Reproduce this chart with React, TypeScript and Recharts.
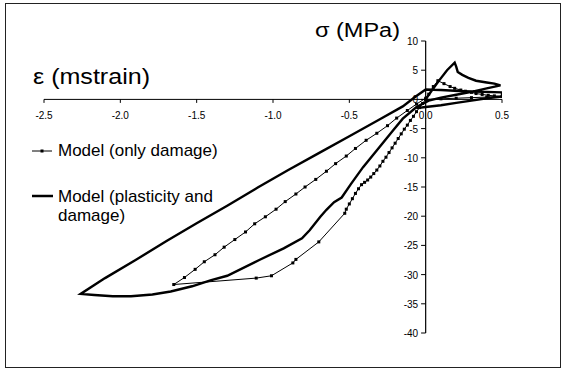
import React from 'react';
import { LineChart, Line, XAxis, YAxis, ReferenceLine, Legend } from 'recharts';

// strain (mstrain) / stress (MPa)
const damageX = [
  0.0, -0.02, -0.04, -0.06, -0.08, -0.1, -0.12, -0.14, -0.16, -0.18, -0.2, -0.22, -0.24, -0.26,
  -0.28, -0.3, -0.32, -0.34, -0.36, -0.38, -0.4, -0.42, -0.44, -0.46, -0.48, -0.5, -0.52, -0.53,
  -0.7, -0.85, -0.87, -1.01, -1.11, -1.65,
  -1.58, -1.51, -1.45, -1.38, -1.32, -1.25, -1.18, -1.12, -1.05, -0.98, -0.92, -0.85, -0.79,
  -0.72, -0.65, -0.59, -0.52, -0.46, -0.39, -0.32, -0.25, -0.19, -0.12, -0.06, 0.0,
  0.02, 0.05, 0.08, 0.12, 0.16, 0.19, 0.23, 0.26, 0.3, 0.33, 0.37, 0.41, 0.45, 0.5,
  0.4, 0.3, 0.2, 0.1, 0.0,
];
const damageY = [
  0.0, -0.7, -1.4, -2.1, -2.9, -3.6, -4.4, -5.1, -5.9, -6.7, -7.5, -8.3, -9.1, -9.9,
  -10.6, -11.4, -12.1, -12.7, -13.3, -13.8, -14.2, -14.6, -15.3, -16.1, -17.0, -17.9, -18.8, -19.5,
  -24.4, -27.4, -28.0, -30.2, -30.6, -31.7,
  -30.5, -29.1, -27.8, -26.6, -25.3, -24.0, -22.7, -21.3, -20.1, -18.8, -17.5, -16.2, -15.0,
  -13.7, -12.3, -11.0, -9.7, -8.4, -7.0, -5.8, -4.5, -3.2, -1.9, -0.8, 0.2,
  0.9, 2.2, 3.2, 2.7, 2.2, 1.9, 1.6, 1.4, 1.2, 1.0, 0.85, 0.7, 0.6, 0.5,
  0.4, 0.3, 0.2, 0.1, 0.0,
];

const plasticX = [
  0.0, 0.04, 0.09, 0.14, 0.19, 0.2, 0.21, 0.24, 0.28, 0.33, 0.4, 0.45, 0.49,
  0.4, 0.3, 0.2, 0.1, 0.02,
  -0.06, -0.15, -0.21, -0.31, -0.41, -0.49, -0.55, -0.6, -0.65, -0.69, -0.76, -0.81, -0.93,
  -1.09, -1.3, -1.41, -1.53, -1.67, -1.79, -1.93, -2.05, -2.17, -2.26,
  -2.1, -1.9, -1.7, -1.5, -1.3, -1.1, -0.9, -0.7, -0.5, -0.3, -0.15, -0.07, 0.0,
  0.1, 0.25, 0.5,
  0.5, 0.4, 0.3, 0.2, 0.1, 0.0, -0.06,
];
const plasticY = [
  0.0, 1.5, 3.3, 5.0, 6.3, 5.6, 4.7, 4.2, 3.7, 3.2, 2.9, 2.7, 2.4,
  1.9, 1.3, 0.8, 0.3, -0.2,
  -1.3, -3.3, -5.2, -8.4, -11.6, -14.5, -16.8, -17.6, -18.9, -20.1, -22.4, -23.8, -25.5,
  -27.5, -30.2, -31.0, -32.0, -32.9, -33.4, -33.7, -33.7, -33.5, -33.3,
  -30.6, -27.5, -24.3, -21.2, -18.2, -15.1, -12.1, -9.2, -6.3, -3.4, -1.2, 0.4, 1.7,
  1.6, 1.4, 1.2,
  0.5, 0.2, -0.2, -0.6, -1.0, -1.3, -1.5,
];

const xTicks = [-2.5, -2.0, -1.5, -1.0, -0.5, 0.0, 0.5];
const yTicks = [10, 5, 0, -5, -10, -15, -20, -25, -30, -35, -40];

const damageData = damageX.map((x, i) => ({ x, y: damageY[i] }));
const plasticData = plasticX.map((x, i) => ({ x, y: plasticY[i] }));

const FONT = '"Liberation Sans", Arial, sans-serif';

const SquareDot = (props: any) => {
  const { cx, cy, index } = props;
  if (cx == null || cy == null) return null;
  return <rect key={`d-${index}`} x={cx - 1.5} y={cy - 1.5} width={3} height={3} fill="#000" />;
};

const xTickLabel = (v: number) => (props: any) => {
  const vb = props.viewBox || {};
  return (
    <text x={vb.x + (vb.width || 0) / 2} y={vb.y + 20} textAnchor="middle" fontSize={10} fontFamily={FONT} fill="#000">
      {v.toFixed(1)}
    </text>
  );
};

const yTickLabel = (v: number) => (props: any) => {
  const vb = props.viewBox || {};
  return (
    <text x={vb.x - 3} y={vb.y + 4} textAnchor="end" fontSize={10} fontFamily={FONT} fill="#000">
      {v}
    </text>
  );
};

const renderLegend = () => (
  <svg width={260} height={100}>
    <line x1={4} y1={16} x2={24} y2={16} stroke="#000" strokeWidth={1} />
    <rect x={12.5} y={14.5} width={3} height={3} fill="#000" />
    <text x={30} y={21} fontSize={17} fontFamily={FONT}>
      Model (only damage)
    </text>
    <line x1={4} y1={61} x2={25} y2={61} stroke="#000" strokeWidth={2.5} />
    <text x={30} y={67} fontSize={17} fontFamily={FONT}>
      Model (plasticity and
    </text>
    <text x={30} y={86} fontSize={17} fontFamily={FONT}>
      damage)
    </text>
  </svg>
);

export default function App() {
  return (
    <div style={{ position: 'absolute', left: 0, top: 0, width: 568, height: 371, background: '#fff' }}>
      <div
        style={{
          position: 'absolute',
          left: 5,
          top: 3,
          width: 556,
          height: 365,
          border: '1.5px solid #222',
          boxSizing: 'border-box',
        }}
      />
      <LineChart width={568} height={371} margin={{ top: 41, right: 66, bottom: 38, left: 44 }}>
        <XAxis type="number" dataKey="x" domain={[-2.5, 0.5]} hide allowDataOverflow />
        <YAxis type="number" dataKey="y" domain={[-40, 10]} hide allowDataOverflow />
        <ReferenceLine y={0} stroke="#000" strokeWidth={1} />
        <ReferenceLine x={0} stroke="#000" strokeWidth={1.2} />
        {xTicks.map((v) => (
          <ReferenceLine
            key={`xt${v}`}
            segment={[{ x: v, y: 0 }, { x: v, y: -0.6 }]}
            stroke="#000"
            label={xTickLabel(v)}
          />
        ))}
        {yTicks.map((v) => (
          <ReferenceLine
            key={`yt${v}`}
            segment={[{ x: -0.03, y: v }, { x: 0, y: v }]}
            stroke="#000"
            label={yTickLabel(v)}
          />
        ))}
        <Legend
          layout="horizontal"
          verticalAlign="middle"
          align="center"
          content={renderLegend}
          wrapperStyle={{ left: 28, top: 135, width: 260, height: 100 }}
        />
        <Line
          data={plasticData}
          dataKey="y"
          name="Model (plasticity and damage)"
          type="linear"
          stroke="#000"
          strokeWidth={2.4}
          dot={false}
          isAnimationActive={false}
        />
        <Line
          data={damageData}
          dataKey="y"
          name="Model (only damage)"
          type="linear"
          stroke="#000"
          strokeWidth={1}
          dot={SquareDot}
          isAnimationActive={false}
        />
      </LineChart>
      <svg width={568} height={371} style={{ position: 'absolute', left: 0, top: 0, pointerEvents: 'none' }}>
        <text x={315} y={37} fontSize={20} fontFamily={FONT} textLength={85} lengthAdjust="spacingAndGlyphs">
          σ (MPa)
        </text>
        <text x={33} y={84} fontSize={22} fontFamily={FONT} textLength={117} lengthAdjust="spacingAndGlyphs">
          ε (mstrain)
        </text>
      </svg>
    </div>
  );
}
